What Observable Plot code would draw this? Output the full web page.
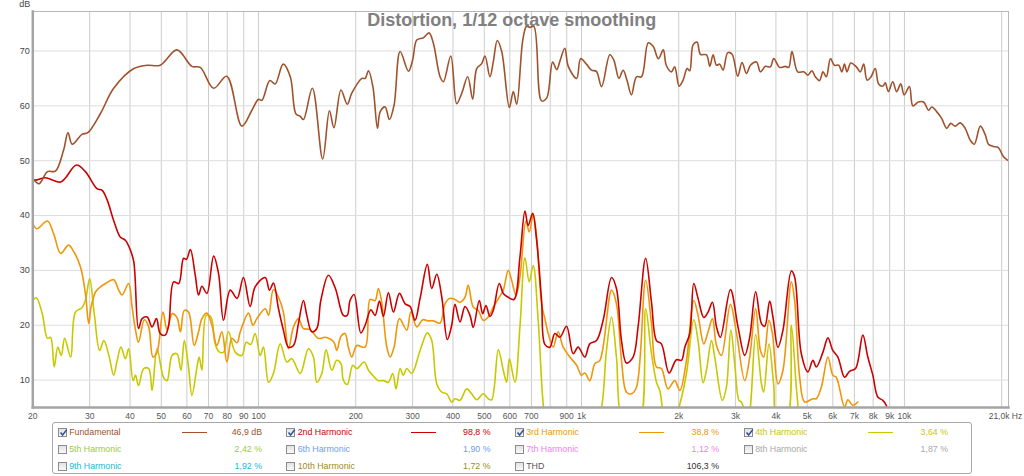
<!DOCTYPE html>
<html>
<head>
<meta charset="utf-8">
<script src="https://cdn.jsdelivr.net/npm/d3@7"></script>
<script src="https://cdn.jsdelivr.net/npm/@observablehq/plot@0.6"></script>
<style>
  html, body { margin: 0; padding: 0; background: #fff; }
  #wrap { width: 1024px; height: 476px; position: relative; overflow: hidden; font-family: "Liberation Sans", Arial, sans-serif; }
  #chart svg { display: block; }
  #legend { position: relative; width: 1024px; height: 56px; font-size: 8.8px; }
  .box { position: absolute; left: 51.5px; top: 2px; width: 920px; height: 52px; border: 1px solid #a8a8a8; border-radius: 3px; box-sizing: border-box; }
  .cb { position: absolute; width: 9px; height: 9px; border: 1px solid #8c8c8c; box-sizing: border-box; background: linear-gradient(#e2e2e2, #fafafa); }
  .cb svg { position: absolute; left: -1px; top: -2px; }
  .lab { position: absolute; white-space: nowrap; line-height: 10px; }
  .val { position: absolute; white-space: nowrap; line-height: 10px; text-align: right; }
  .sw { position: absolute; height: 1.4px; width: 25px; }
</style>
</head>
<body>
<div id="wrap">
  <div id="chart"></div>
  <div id="legend"><div class="box"></div></div>
</div>
<script>
// ---------- data (frequency in Hz, level in dB) ----------
const fundamental = [[20,46.8],[20.9,45.8],[22.2,48.0],[23.5,48.1],[24.9,51.9],[25.7,55.1],[26.5,53.0],[28.4,54.8],[29.6,55.1],[32.4,58.6],[35.6,63.2],[41.1,66.8],[45.2,67.4],[49.6,67.4],[55.9,70.2],[62.2,67.2],[66.0,67.0],[72.6,63.2],[79.7,65.4],[88.8,56.3],[95.4,59.2],[100,61.2],[102.4,61.0],[108.4,64.6],[112.6,64.0],[119.2,67.6],[125.4,65.3],[130.6,58.5],[134.6,58.1],[137.7,57.5],[146.8,63.2],[158.0,50.3],[165.8,59.1],[171.2,56.0],[180.0,62.9],[188.2,60.3],[194.4,62.3],[208.9,65.0],[213.9,65.0],[219.0,66.4],[226.0,63.5],[233.5,55.9],[238.0,58.9],[246.6,59.8],[254.2,57.5],[262.8,60.1],[274.4,69.9],[291.2,66.3],[300.4,68.5],[309.0,72.0],[323.8,72.4],[337.2,73.3],[347.8,71.4],[364.8,65.3],[373.6,64.4],[393.8,69.1],[410.8,60.4],[425.8,62.3],[444.4,65.3],[460.4,61.2],[473.8,66.8],[491.0,67.7],[502.6,69.1],[520.6,65.3],[533.2,68.0],[548.6,71.9],[566.2,69.9],[598.0,59.7],[615.0,62.6],[630.0,60.3],[658.0,72.0],[676.0,74.5],[692.0,74.3],[712.0,74.5],[752.0,60.9],[780.0,61.4],[814.0,68.0],[838.0,66.6],[858.0,68.2],[888.0,70.5],[910.0,67.2],[966.0,65.0],[994.0,68.6],[1036,67.6],[1074,66.5],[1112,66.3],[1154,63.5],[1224,69.3],[1260,68.3],[1306,65.0],[1346,66.5],[1384,64.6],[1428,62.0],[1480,65.3],[1534,65.3],[1610,71.5],[1668,70.8],[1730,68.6],[1792,70.2],[1830,67.4],[1898,66.2],[1944,67.1],[2006,63.6],[2064,64.7],[2124,66.8],[2164,66.4],[2216,71.1],[2280,71.6],[2336,69.4],[2438,69.3],[2496,67.2],[2556,69.3],[2618,67.4],[2680,67.6],[2744,66.5],[2838,69.7],[2926,69.4],[3046,65.4],[3142,67.9],[3242,65.9],[3336,67.4],[3482,68.0],[3582,66.2],[3712,67.2],[3846,67.1],[3938,68.6],[4108,67.0],[4278,67.2],[4380,67.0],[4486,69.9],[4672,66.2],[4880,66.2],[5020,65.6],[5170,66.4],[5296,65.3],[5460,64.6],[5594,66.2],[5730,65.3],[5900,68.6],[6070,67.4],[6260,67.4],[6400,66.2],[6520,67.6],[6640,66.2],[6820,67.8],[7100,67.1],[7300,66.2],[7480,67.6],[7660,64.7],[7880,65.3],[8120,66.8],[8320,64.0],[8580,63.6],[8720,64.2],[8920,62.6],[9200,64.4],[9460,62.6],[9740,64.0],[9980,62.0],[10360,63.5],[10620,60.0],[11040,60.7],[11460,60.7],[11880,59.2],[12160,59.8],[12600,58.9],[13040,57.7],[13520,55.9],[13920,56.8],[14360,56.3],[14880,56.9],[15420,55.9],[16000,53.7],[16460,53.0],[17180,56.3],[17800,54.7],[18200,53.0],[18840,52.6],[19520,52.4],[20260,50.7],[20740,50.2],[21000,50.0]];

const harmonic2 = [[20,46.4],[20.6,46.5],[21.9,46.9],[23.2,46.4],[24.4,46.1],[25.2,46.8],[27.3,49.2],[29.1,48.0],[31.6,44.9],[32.8,44.6],[34.0,42.8],[35.6,39.1],[37.3,36.1],[38.7,35.5],[40.1,33.7],[41.1,31.5],[42.5,19.4],[43.6,21.2],[45.2,21.5],[46.8,19.7],[48.3,21.2],[49.6,18.5],[51.4,18.2],[52.7,20.0],[54.6,27.9],[56.6,27.6],[58.6,32.2],[59.8,32.0],[61.5,33.8],[63.7,29.1],[65.2,25.5],[66.8,27.1],[69.2,25.8],[72.6,32.6],[75.2,29.4],[77.9,20.9],[81.7,26.4],[85.8,24.9],[89.8,28.7],[94.2,23.4],[97.6,27.0],[104.9,28.7],[108.1,26.4],[111.2,27.7],[115.3,23.0],[119.4,19.1],[123.8,16.0],[128.3,16.3],[132.9,20.3],[137.7,24.5],[141.1,21.8],[146.2,18.8],[151.5,19.4],[155.9,24.5],[164.6,29.1],[173.0,26.7],[183.1,21.8],[188.2,21.8],[192.0,24.5],[197.6,25.6],[207.4,18.6],[213.8,20.0],[222.7,22.8],[229.6,21.8],[236.8,24.4],[243.6,21.6],[252.4,25.9],[261.6,22.4],[273.0,25.8],[284.4,23.9],[294.6,23.4],[305.2,20.9],[316.4,24.9],[333.2,31.1],[343.8,26.7],[356.4,29.3],[369.4,25.1],[384.2,17.4],[396.4,20.0],[405.8,23.8],[420.6,20.6],[435.8,23.4],[451.6,21.8],[462.2,19.6],[482.6,24.5],[494.4,22.1],[506.0,23.6],[520.6,21.6],[533.2,22.7],[556.4,27.6],[572.6,25.8],[593.2,25.1],[618.0,24.7],[644.8,32.4],[668.2,40.8],[684.0,38.2],[705.8,40.4],[726.2,35.5],[752.4,24.5],[770.2,16.5],[798.2,16.0],[827.2,18.5],[857.2,17.8],[899.0,19.8],[942.4,14.8],[976.4,16.0],[1024,14.2],[1061,16.6],[1113,17.2],[1167,20.9],[1239,28.7],[1283,26.7],[1330,17.2],[1378,13.1],[1445,14.2],[1497,19.7],[1580,32.2],[1647,24.2],[1707,17.2],[1768,16.6],[1867,11.3],[1968,13.7],[2040,13.6],[2089,16.0],[2164,18.5],[2227,27.6],[2296,24.9],[2392,21.4],[2466,22.4],[2544,24.2],[2618,19.7],[2692,17.8],[2892,26.5],[3052,19.7],[3202,14.5],[3318,17.8],[3462,26.1],[3608,20.3],[3694,19.8],[3826,24.4],[3916,21.5],[4058,16.0],[4206,19.1],[4464,29.9],[4570,28.8],[4794,14.8],[5026,11.5],[5206,13.6],[5334,12.4],[5594,15.1],[5796,17.7],[6000,15.4],[6222,14.2],[6526,10.5],[6760,11.6],[7058,12.1],[7434,18.2],[7702,14.2],[7982,10.9],[8272,6.9],[8572,6.3],[8782,5.4],[8920,3.0]];

const harmonic3 = [[20,38.5],[20.6,37.6],[22.2,39.0],[23.2,36.7],[24.4,33.1],[25.8,34.6],[26.8,33.4],[28.1,30.6],[29.1,25.8],[29.8,20.3],[30.3,23.3],[31.3,26.1],[32.4,27.0],[33.6,27.6],[35.6,28.3],[36.9,26.4],[37.8,25.5],[39.6,27.6],[40.6,23.3],[41.6,19.1],[42.5,16.9],[44.3,21.0],[45.7,19.7],[47.1,14.2],[48.5,15.1],[50.6,22.4],[52.1,19.1],[54.0,22.1],[55.9,21.4],[57.3,18.8],[58.9,22.7],[60.7,22.4],[63.2,16.3],[65.2,18.8],[66.8,21.2],[69.2,22.2],[71.7,20.0],[74.3,16.3],[77.0,18.8],[79.8,13.3],[82.7,17.6],[85.8,16.8],[87.8,18.8],[93.1,22.2],[96.1,20.0],[98.8,21.2],[104.9,23.0],[107.4,21.8],[111.2,26.5],[115.3,25.1],[119.4,22.4],[123.8,15.7],[128.3,19.7],[132.9,21.2],[137.7,19.4],[144.5,19.2],[153.3,17.6],[161.0,17.8],[171.2,16.9],[174.7,15.4],[180.0,18.0],[185.3,18.5],[189.7,16.0],[194.4,14.2],[201.6,16.3],[213.8,16.0],[221.6,24.7],[229.6,24.5],[235.0,26.7],[240.8,24.1],[249.6,16.0],[255.6,14.2],[262.8,16.0],[273.0,21.2],[287.8,19.1],[296.2,22.4],[309.0,19.7],[322.6,21.0],[335.6,20.8],[347.8,20.8],[364.8,20.4],[378.0,23.9],[391.6,24.9],[405.8,24.7],[420.6,24.2],[435.8,25.1],[446.0,27.3],[462.2,23.3],[479.2,22.7],[496.4,20.9],[514.4,21.5],[533.2,23.3],[556.4,25.1],[572.6,26.4],[593.2,30.0],[607.8,28.2],[626.6,25.5],[644.8,28.8],[673.0,39.0],[689.0,37.0],[708.8,40.2],[726.2,36.1],[752.4,23.9],[770.2,21.2],[788.6,18.5],[817.2,16.0],[847.0,18.8],[877.6,16.0],[920.0,14.2],[966.0,12.7],[1000,10.9],[1024,11.3],[1061,9.9],[1100,13.0],[1140,13.6],[1239,26.4],[1283,23.9],[1330,13.6],[1378,7.8],[1428,7.5],[1480,8.7],[1580,28.2],[1647,20.3],[1707,12.4],[1768,12.1],[1853,8.4],[1944,9.9],[2016,8.1],[2114,13.6],[2227,24.5],[2296,21.8],[2392,16.6],[2466,18.8],[2544,21.2],[2618,16.3],[2712,14.5],[2892,23.8],[3020,18.5],[3202,9.9],[3318,14.2],[3462,23.0],[3582,15.4],[3666,14.2],[3806,20.9],[3900,18.5],[4058,9.3],[4206,11.8],[4464,27.9],[4570,24.5],[4738,10.5],[4910,6.0],[5206,6.6],[5334,6.6],[5530,8.7],[5796,14.2],[6000,10.9],[6150,10.5],[6526,5.1],[6682,6.4],[6920,5.4],[7174,6.0]];

const harmonic4 = [[20,24.5],[20.5,25.0],[21.4,22.1],[22.2,17.6],[22.7,17.8],[23.3,12.4],[23.9,16.0],[24.5,14.5],[25.1,17.6],[26.2,14.2],[27.1,22.4],[28.4,23.2],[29.1,24.5],[30.0,28.5],[31.0,22.1],[32.2,15.4],[33.2,17.2],[34.4,14.5],[35.6,10.9],[36.5,13.6],[37.5,16.0],[38.7,13.9],[39.6,15.7],[40.9,9.9],[41.6,10.9],[42.5,9.0],[44.1,12.1],[45.7,12.1],[46.8,8.1],[48.5,15.7],[50.8,10.5],[52.1,9.9],[54.0,14.5],[55.9,14.8],[57.5,11.8],[58.9,17.2],[60.7,12.4],[62.2,7.2],[64.5,12.4],[65.5,14.2],[66.8,11.8],[68.9,21.8],[71.2,21.5],[73.4,16.6],[75.7,15.1],[77.9,15.1],[80.7,18.8],[84.7,15.1],[88.8,14.5],[91.6,16.9],[94.6,16.5],[97.6,18.5],[101.2,14.5],[103.6,16.0],[107.4,9.6],[111.2,11.2],[116.7,16.6],[122.4,13.3],[126.8,13.9],[134.6,11.2],[142.7,15.7],[147.9,14.2],[151.5,9.6],[157.0,11.2],[161.9,15.5],[168.6,11.8],[174.7,13.6],[180.0,13.0],[183.1,10.0],[188.4,9.2],[195.8,12.7],[201.6,12.1],[212.4,13.3],[219.0,11.8],[227.0,10.7],[235.0,9.9],[243.6,9.9],[252.4,9.6],[260.4,11.2],[266.6,8.4],[274.4,12.1],[280.8,10.9],[287.8,12.1],[298.2,11.2],[316.4,15.4],[333.2,18.6],[343.8,17.2],[356.4,9.3],[369.4,7.8],[382.6,7.5],[396.4,6.0],[405.8,6.6],[420.6,6.3],[441.0,8.4],[457.0,7.5],[473.8,6.4],[496.4,7.5],[514.4,6.6],[527.0,6.4],[552.6,15.5],[572.6,11.8],[586.6,9.6],[598.0,13.9],[622.2,9.6],[644.8,19.7],[668.2,32.3],[689.0,27.9],[708.8,30.9],[734.4,20.9],[761.0,5.7],[781.4,1],[1100,1],[1154,5],[1195,15.4],[1239,21.5],[1283,14.2],[1330,3],[1420,1],[1515,2],[1580,23.0],[1647,14.8],[1707,9.6],[1747,8.1],[1810,3],[1900,1],[2016,5.6],[2114,11.2],[2227,21.0],[2296,17.2],[2380,9.5],[2438,11.8],[2526,17.2],[2586,14.2],[2730,6.3],[2810,8.7],[2900,19.1],[2982,13.0],[3074,6.3],[3126,6.0],[3278,3],[3462,18.3],[3608,9.3],[3666,7.8],[3806,16.6],[3938,9.0],[4030,3],[4318,3],[4464,20.0],[4626,8.7],[4720,3]];

// axis ticks & grid
const gridFreqs = [20,30,40,50,60,70,80,90,100,200,300,400,500,600,700,800,900,1000,2000,3000,4000,5000,6000,7000,8000,9000,10000,20000];
const labelFreqs = [20,30,40,50,60,70,80,90,100,200,300,400,500,600,700,900,1000,2000,3000,4000,5000,6000,7000,8000,9000,10000];
const yTicks = [10,20,30,40,50,60,70];
const titleText = "Distortion, 1/12 octave smoothing";
const lastLabel = "21,0k Hz";

// legend
const legendNames  = ["Fundamental","2nd Harmonic","3rd Harmonic","4th Harmonic","5th Harmonic","6th Harmonic","7th Harmonic","8th Harmonic","9th Harmonic","10th Harmonic","THD"];
const legendValues = ["46,9 dB","98,8 %","38,8 %","3,64 %","2,42 %","1,90 %","1,12 %","1,87 %","1,92 %","1,72 %","106,3 %"];
const legendChecked = [true,true,true,true,false,false,false,false,false,false,false];
const legendColors = ["#a0522d","#cc0000","#f0960a","#c8c800","#9ccc3a","#6f9cef","#ee7fee","#a8a8a8","#22b8d0","#a08a20","#444444"];
const legendLine   = [true,true,true,true,false,false,false,false,false,false,false];

const rows = (pairs) => pairs.map(([f, db]) => ({f, db}));
const fmtHz = (d) => d >= 1000 ? (d / 1000) + "k" : String(d);

const lineOpts = (color) => ({x: "f", y: "db", stroke: color, strokeWidth: 1.6, curve: "catmull-rom", clip: true});

const chart = Plot.plot({
  width: 1024,
  height: 420,
  marginLeft: 32.3,
  marginRight: 16,
  marginTop: 11,
  marginBottom: 13,
  style: {fontFamily: "Liberation Sans, Arial, sans-serif", fontSize: "9px", color: "#444", background: "#fff"},
  x: {type: "log", domain: [20, 21000], axis: null},
  y: {domain: [5, 77.2], axis: null},
  marks: [
    Plot.ruleX(gridFreqs, {stroke: "#cdcdcd", strokeWidth: 1}),
    Plot.ruleY(yTicks, {stroke: "#dddddd", strokeWidth: 1}),
    Plot.line(rows(harmonic4), lineOpts("#c8c800")),
    Plot.line(rows(harmonic3), lineOpts("#f0960a")),
    Plot.line(rows(harmonic2), lineOpts("#cc0000")),
    Plot.line(rows(fundamental), lineOpts("#a0522d")),
    Plot.frame({stroke: "#b8b8b8"}),
    Plot.frame({anchor: "left", stroke: "#a4a4a4", strokeWidth: 2.5}),
    Plot.frame({anchor: "bottom", stroke: "#a4a4a4", strokeWidth: 2.5}),
    Plot.text(yTicks, {y: (d) => d, text: (d) => String(d), frameAnchor: "left", textAnchor: "end", lineAnchor: "middle", dx: -3, fontSize: 9, fill: "#444"}),
    Plot.text(labelFreqs, {x: (d) => d, text: fmtHz, frameAnchor: "bottom", textAnchor: "middle", lineAnchor: "middle", dy: 9, fontSize: 8.5, fill: "#555"}),
    Plot.text([lastLabel], {frameAnchor: "bottom-right", textAnchor: "end", lineAnchor: "middle", dx: 13.7, dy: 9, fontSize: 8.5, fill: "#555"}),
    Plot.text(["dB"], {frameAnchor: "top-left", textAnchor: "middle", lineAnchor: "middle", dx: -8, dy: -7, fontSize: 9, fill: "#444"}),
    Plot.text([titleText], {frameAnchor: "top", lineAnchor: "middle", dx: -9, dy: 9, fontSize: 18, fontWeight: "bold", fill: "#808080"})
  ]
});
document.getElementById("chart").appendChild(chart);

// legend (HTML)
const legend = document.getElementById("legend");
const colX = [57.5, 286, 514.5, 743.5];
const rowY = [12.3, 29.3, 46];
legendNames.forEach((name, i) => {
  const c = i % 4, r = Math.floor(i / 4);
  const x = colX[c], y = rowY[r];
  const cb = document.createElement("div");
  cb.className = "cb";
  cb.style.left = x + "px";
  cb.style.top = (y - 4.5) + "px";
  if (legendChecked[i]) {
    cb.innerHTML = '<svg width="11" height="11" viewBox="0 0 11 11"><path d="M2.5 5.5 L4.6 8 L8.8 2.6" fill="none" stroke="#2f4f9a" stroke-width="1.5"/></svg>';
  }
  legend.appendChild(cb);
  const lab = document.createElement("div");
  lab.className = "lab";
  lab.textContent = name;
  lab.style.left = (x + 11.7) + "px";
  lab.style.top = (y - 5) + "px";
  lab.style.color = name === "THD" ? "#555" : legendColors[i];
  legend.appendChild(lab);
  if (legendLine[i]) {
    const sw = document.createElement("div");
    sw.className = "sw";
    sw.style.left = (x + 124.7) + "px";
    sw.style.top = (y - 0.7) + "px";
    sw.style.background = legendColors[i];
    legend.appendChild(sw);
  }
  const val = document.createElement("div");
  val.className = "val";
  val.textContent = legendValues[i];
  val.style.right = (1024 - (x + 204.5)) + "px";
  val.style.top = (y - 5) + "px";
  val.style.color = name === "THD" ? "#333" : legendColors[i];
  legend.appendChild(val);
});
</script>
</body>
</html>
